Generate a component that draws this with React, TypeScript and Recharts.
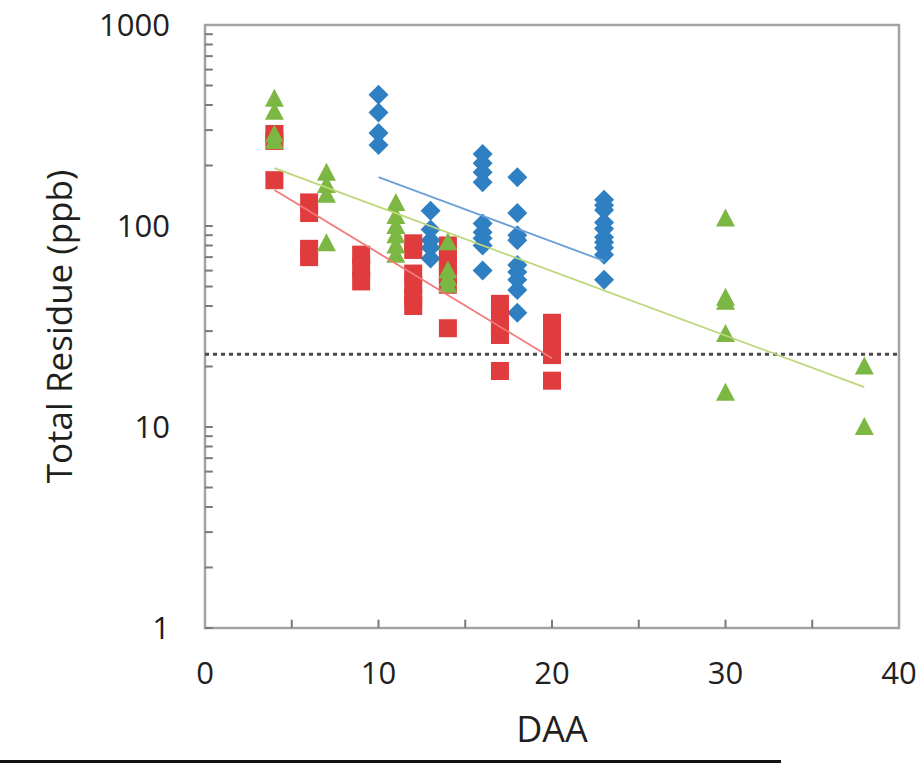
import { ScatterChart, Scatter, XAxis, YAxis, ReferenceLine, ReferenceArea } from "recharts";

const FONT = '"Open Sans", "Liberation Sans", sans-serif';

const BLUE = "#2f7fc3";
const RED = "#e03b3d";
const GREEN = "#7db743";

// days after application, residue (ppb) read per day
const blueDays = [10, 13, 16, 18, 23];
const blueResidue = [
  [450, 367, 290, 253],
  [119, 96, 85, 78, 69],
  [228, 205, 185, 165, 103, 93, 87, 80, 60],
  [175, 116, 90, 85, 64, 59, 54, 48, 37],
  [135, 127, 120, 104, 97, 88, 83, 78, 72, 54],
];

const redDays = [4, 6, 9, 12, 14, 17, 20];
const redResidue = [
  [287, 265, 169],
  [131, 116, 77, 70],
  [72, 62, 53],
  [82, 76, 58, 51, 44, 40],
  [80, 72, 64, 57, 51, 31],
  [41, 36, 31, 28.7, 19],
  [33, 28.7, 25.6, 22.8, 17],
];

const greenDays = [4, 7, 11, 14, 30, 38];
const greenResidue = [
  [430, 370, 285, 265],
  [184, 160, 143, 82],
  [130, 112, 100, 90, 80, 72],
  [83, 60, 55, 51],
  [109, 44, 42, 29, 14.8],
  [20, 10],
];

// exponential trend lines (end points)
const blueTrendDays = [10, 23];
const blueTrend = [175, 67];
const redTrendDays = [4, 20];
const redTrend = [151, 22];
const greenTrendDays = [4, 38];
const greenTrend = [194, 15.8];

const limitValue = 23;

const xTicks = [0, 10, 20, 30, 40];
const xMinorTicks = [5, 10, 15, 20, 25, 30, 35];
const yTicks = [1, 10, 100, 1000];
const yMinorTicks = [1, 10, 100].flatMap((d) => [1, 2, 3, 4, 5, 6, 7, 8, 9].map((m) => m * d));

function toPoints(days: number[], residue: number[][]) {
  return days.flatMap((d, i) => residue[i].map((v) => ({ x: d, y: v })));
}

function toLine(days: number[], values: number[]) {
  return days.map((d, i) => ({ x: d, y: values[i] }));
}

const Diamond = (props: any) => {
  const { cx, cy } = props;
  if (cx == null || cy == null) return <g />;
  return (
    <polygon
      points={`${cx},${cy - 10} ${cx + 10},${cy} ${cx},${cy + 10} ${cx - 10},${cy}`}
      fill={BLUE}
    />
  );
};

const Square = (props: any) => {
  const { cx, cy } = props;
  if (cx == null || cy == null) return <g />;
  return <rect x={cx - 9} y={cy - 9} width={18} height={18} fill={RED} />;
};

const Triangle = (props: any) => {
  const { cx, cy } = props;
  if (cx == null || cy == null) return <g />;
  return (
    <polygon
      points={`${cx},${cy - 10} ${cx + 9.5},${cy + 8} ${cx - 9.5},${cy + 8}`}
      fill={GREEN}
    />
  );
};

const NoDot = () => <g />;

export default function App() {
  const tickStyle = { fontSize: 31, fill: "#1f1f1f", fontFamily: FONT };

  return (
    <div style={{ position: "absolute", left: 0, top: 0, width: 922, height: 766, background: "#fff" }}>
      <ScatterChart width={922} height={766} margin={{ top: 25, right: 23, bottom: 18, left: 0 }}>
        <XAxis
          type="number"
          dataKey="x"
          domain={[0, 40]}
          ticks={xTicks}
          axisLine={false}
          tickLine={false}
          tickSize={0}
          tickMargin={34}
          height={120}
          tick={{ ...tickStyle, verticalAnchor: "start" } as any}
          label={{
            value: "DAA",
            position: "insideBottom",
            offset: 6,
            style: { fontSize: 36, fill: "#1f1f1f", fontFamily: FONT },
          }}
        />
        <YAxis
          type="number"
          dataKey="y"
          scale="log"
          domain={[1, 1000]}
          ticks={yTicks}
          axisLine={false}
          tickLine={false}
          tickSize={0}
          tickMargin={35}
          width={205}
          tick={tickStyle}
          label={{
            value: "Total Residue (ppb)",
            angle: -90,
            position: "insideLeft",
            offset: 60,
            style: { fontSize: 35, fill: "#1f1f1f", fontFamily: FONT, textAnchor: "middle" },
          }}
        />

        <ReferenceArea
          x1={0}
          x2={40}
          y1={1}
          y2={1000}
          fill="none"
          stroke="#a3a3a3"
          strokeWidth={2.5}
          ifOverflow="visible"
        />
        {yMinorTicks.map((v) => (
          <ReferenceLine
            key={`ym${v}`}
            segment={[{ x: 0, y: v }, { x: 0.45, y: v }]}
            stroke="#7a7a7a"
            strokeWidth={2}
          />
        ))}
        {xMinorTicks.map((v) => (
          <ReferenceLine
            key={`xm${v}`}
            segment={[{ x: v, y: 1 }, { x: v, y: 1.1 }]}
            stroke="#7a7a7a"
            strokeWidth={2}
          />
        ))}

        <Scatter data={toPoints(blueDays, blueResidue)} shape={Diamond} isAnimationActive={false} />
        <Scatter data={toPoints(redDays, redResidue)} shape={Square} isAnimationActive={false} />
        <Scatter data={toPoints(greenDays, greenResidue)} shape={Triangle} isAnimationActive={false} />

        <Scatter
          data={toLine(blueTrendDays, blueTrend)}
          shape={NoDot}
          line={{ stroke: "#6b9fd6", strokeWidth: 1.8 }}
          isAnimationActive={false}
        />
        <Scatter
          data={toLine(redTrendDays, redTrend)}
          shape={NoDot}
          line={{ stroke: "#f07a78", strokeWidth: 1.8 }}
          isAnimationActive={false}
        />
        <Scatter
          data={toLine(greenTrendDays, greenTrend)}
          shape={NoDot}
          line={{ stroke: "#bcd77a", strokeWidth: 1.8 }}
          isAnimationActive={false}
        />

        <ReferenceLine y={limitValue} stroke="#4a4a4a" strokeWidth={3} strokeDasharray="4 4" />
      </ScatterChart>
      <div
        style={{ position: "absolute", left: 0, top: 760, width: 781, height: 3, background: "#111" }}
      />
    </div>
  );
}
